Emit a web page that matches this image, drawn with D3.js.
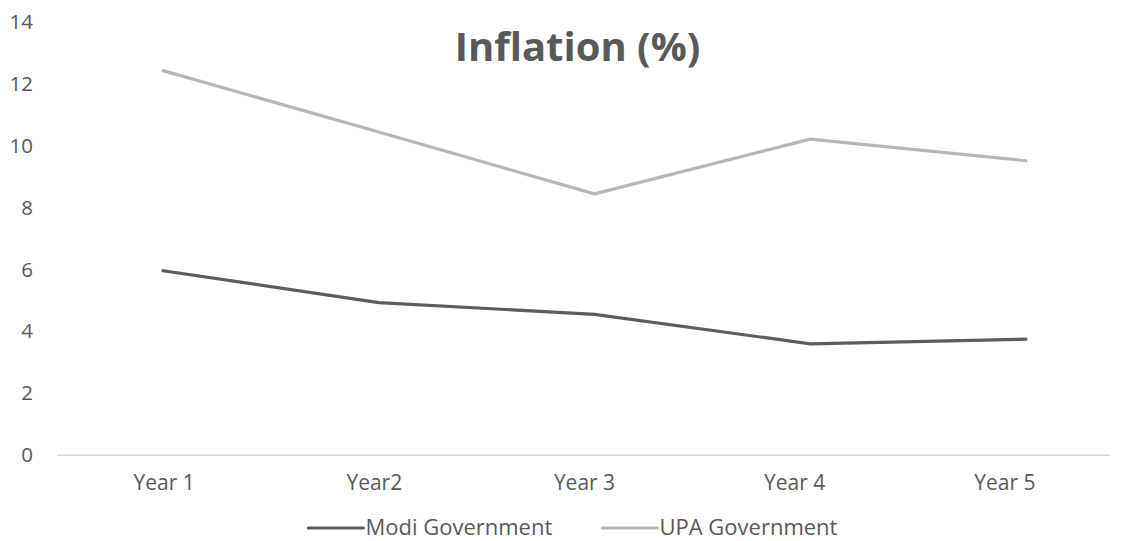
<!DOCTYPE html>
<html>
<head>
<meta charset="utf-8">
<script src="https://cdn.jsdelivr.net/npm/d3@7"></script>
<style>
  html, body { margin: 0; padding: 0; background: #fff; }
  svg { display: block; font-family: "Open Sans", sans-serif; }
</style>
</head>
<body>
<svg id="chart" width="1122" height="541"></svg>
<script>
const categories = ["Year 1", "Year2", "Year 3", "Year 4", "Year 5"];
const modiValues = [5.96, 4.93, 4.55, 3.6, 3.75];
const upaValues = [12.42, 10.44, 8.44, 10.21, 9.51];
const seriesNames = ["Modi Government", "UPA Government"];
const seriesColors = ["#5d5d5d", "#b7b7b7"];
const yTicks = [0, 2, 4, 6, 8, 10, 12, 14];
const titleText = "Inflation (%)";

const svg = d3.select("#chart");

// category axis (labels) and line positions
const xAxisScale = d3.scaleBand().domain(categories).range([59, 1110]).padding(0);
const xLine = d3.scalePoint().domain(categories).range([163, 1026]);
const y = d3.scaleLinear().domain([0, 14]).range([455.3, 21.7]);

// X axis line
svg.append("line")
  .attr("x1", 57).attr("x2", 1110)
  .attr("y1", y(0)).attr("y2", y(0))
  .attr("stroke", "#d9d9d9").attr("stroke-width", 1.5);

// Y axis labels
const yAxis = d3.axisLeft(y).tickValues(yTicks).tickSize(0).tickPadding(0);
const yg = svg.append("g").attr("transform", "translate(33,0)").call(yAxis);
yg.select(".domain").remove();
yg.selectAll("text").attr("font-size", 20.5).attr("fill", "#595959")
  .attr("font-family", "Open Sans, sans-serif");

// X axis labels
const xAxis = d3.axisBottom(xAxisScale).tickSize(0).tickPadding(0);
const xg = svg.append("g").attr("transform", `translate(0,${y(0) + 20})`).call(xAxis);
xg.select(".domain").remove();
xg.selectAll("text").attr("font-size", 21).attr("fill", "#595959")
  .attr("font-family", "Open Sans, sans-serif");

// Lines
const line = d3.line().x((d, i) => xLine(categories[i])).y(d => y(d));
[modiValues, upaValues].forEach((vals, k) => {
  svg.append("path")
    .datum(vals)
    .attr("d", line)
    .attr("fill", "none")
    .attr("stroke", seriesColors[k])
    .attr("stroke-width", 3.2)
    .attr("stroke-linecap", "round")
    .attr("stroke-linejoin", "round");
});

// Title
svg.append("text")
  .attr("x", 577.5).attr("y", 61)
  .attr("text-anchor", "middle")
  .attr("font-size", 40).attr("font-weight", "bold")
  .attr("fill", "#595959")
  .text(titleText);

// Legend
const legendY = 528;
const lg = svg.append("g");
let items = [];
seriesNames.forEach((name, k) => {
  const g = lg.append("g");
  g.append("line").attr("x1", 0).attr("x2", 55).attr("y1", 0).attr("y2", 0)
    .attr("stroke", seriesColors[k]).attr("stroke-width", 3.2).attr("stroke-linecap", "round");
  g.append("text").attr("x", 57).attr("y", 7).attr("font-size", 22)
    .attr("fill", "#595959").text(name);
  items.push(g);
});
const widths = items.map(g => g.node().getBBox().width);
const gap = 50;
const total = widths[0] + widths[1] + gap;
let start = 573 - total / 2;
items.forEach((g, k) => {
  g.attr("transform", `translate(${start},${legendY})`);
  start += widths[k] + gap;
});
</script>
</body>
</html>
